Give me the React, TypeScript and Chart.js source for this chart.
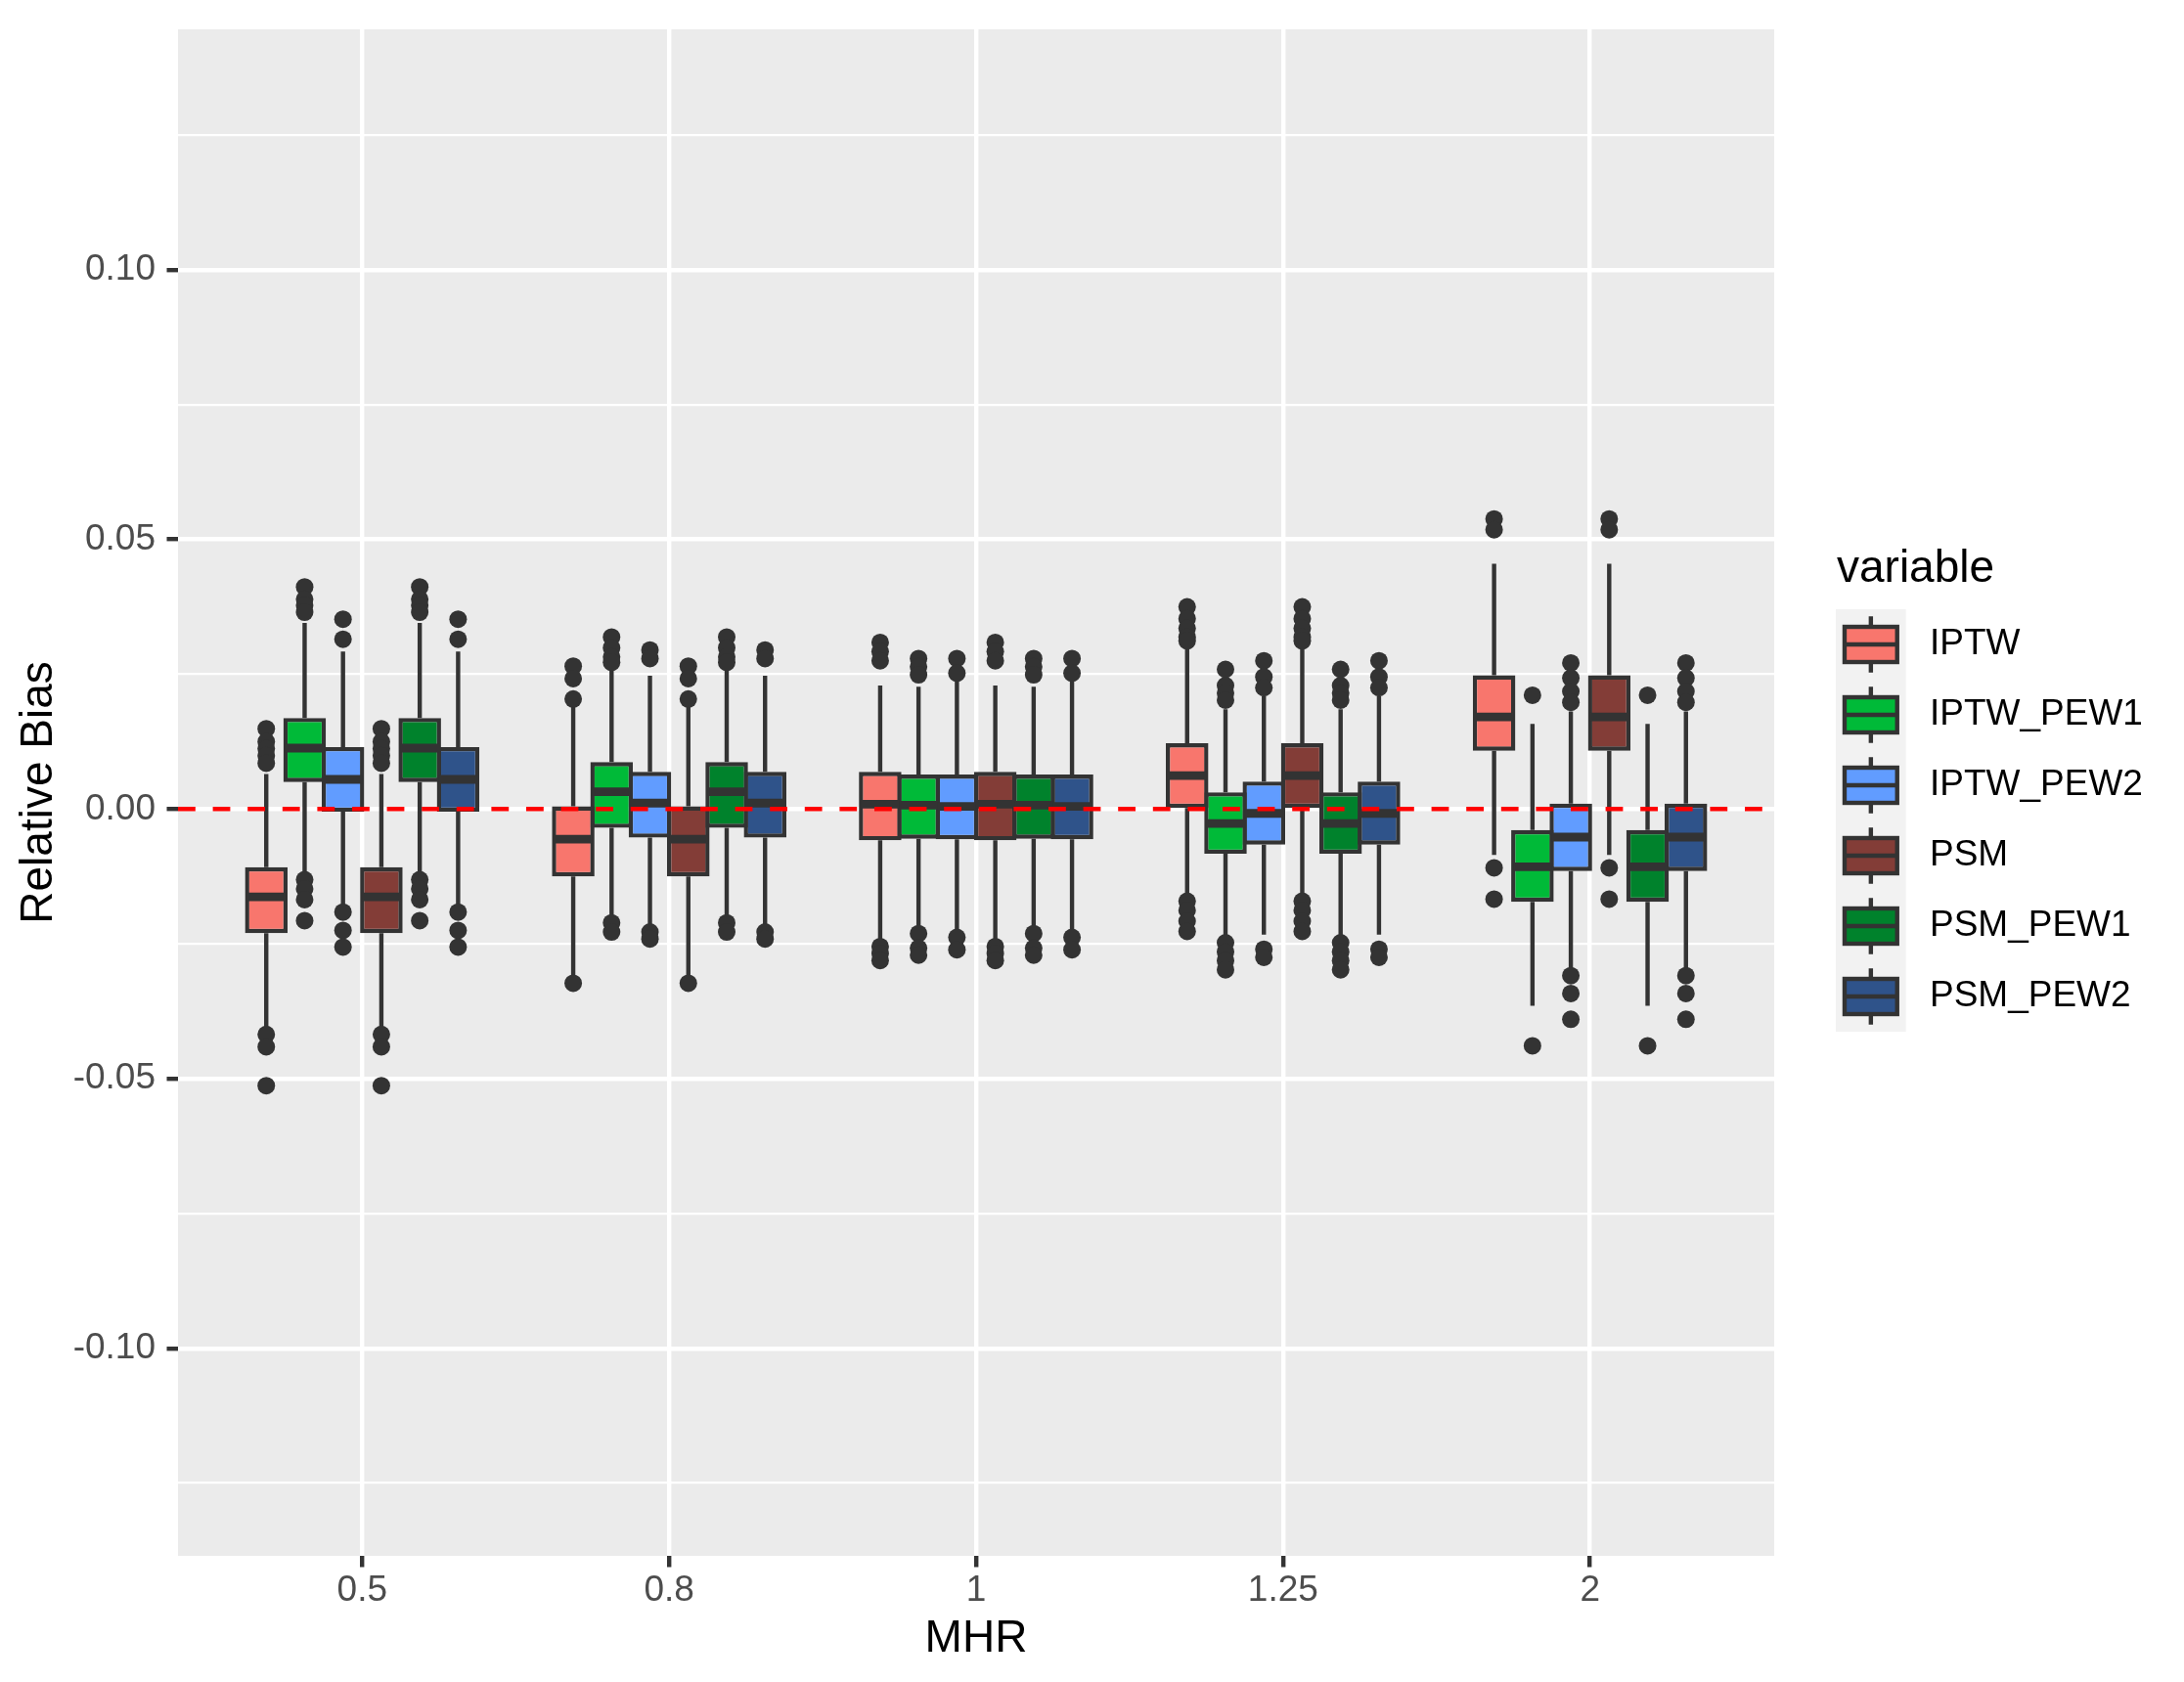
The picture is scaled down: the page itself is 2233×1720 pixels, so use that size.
import { useEffect, useRef } from 'react';
import { Chart, registerables } from 'chart.js';

Chart.register(...registerables);

// MHR levels on the x axis
const CATEGORIES = ['0.5', '0.8', '1', '1.25', '2'];

// box stats per MHR level: [whisker low, q1, median, q3, whisker high]
const IPTW = [
  [-0.0408, -0.023, -0.0163, -0.0108, 0.0065],
  [-0.0311, -0.0125, -0.0056, 0.0005, 0.0192],
  [-0.0241, -0.0058, 0.0009, 0.0069, 0.0229],
  [-0.0161, 0.0002, 0.0062, 0.0122, 0.0299],
  [-0.0085, 0.0108, 0.0171, 0.0248, 0.0455],
];
const IPTW_PEW1 = [
  [-0.0128, 0.005, 0.0113, 0.0169, 0.0345],
  [-0.0205, -0.0035, 0.0032, 0.0087, 0.0259],
  [-0.0221, -0.0055, 0.0007, 0.0064, 0.0227],
  [-0.0235, -0.0083, -0.0027, 0.0031, 0.0185],
  [-0.0365, -0.0172, -0.0107, -0.0039, 0.0158],
];
const IPTW_PEW2 = [
  [-0.0188, -0.0005, 0.0055, 0.0115, 0.0292],
  [-0.0218, -0.0053, 0.0011, 0.0069, 0.0247],
  [-0.0228, -0.0056, 0.0005, 0.0064, 0.0239],
  [-0.0233, -0.0066, -0.0008, 0.0051, 0.0209],
  [-0.0295, -0.0115, -0.0052, 0.001, 0.0181],
];
const PSM = [
  [-0.0408, -0.023, -0.0163, -0.0108, 0.0065],
  [-0.0311, -0.0125, -0.0056, 0.0005, 0.0192],
  [-0.0241, -0.0058, 0.0009, 0.0069, 0.0229],
  [-0.0161, 0.0002, 0.0062, 0.0122, 0.0299],
  [-0.0085, 0.0108, 0.0171, 0.0248, 0.0455],
];
const PSM_PEW1 = [
  [-0.0128, 0.005, 0.0113, 0.0169, 0.0345],
  [-0.0205, -0.0035, 0.0032, 0.0087, 0.0259],
  [-0.0221, -0.0055, 0.0007, 0.0064, 0.0227],
  [-0.0235, -0.0083, -0.0027, 0.0031, 0.0185],
  [-0.0365, -0.0172, -0.0107, -0.0039, 0.0158],
];
const PSM_PEW2 = [
  [-0.0188, -0.0005, 0.0055, 0.0115, 0.0292],
  [-0.0218, -0.0053, 0.0011, 0.0069, 0.0247],
  [-0.0228, -0.0056, 0.0005, 0.0064, 0.0239],
  [-0.0233, -0.0066, -0.0008, 0.0051, 0.0209],
  [-0.0295, -0.0115, -0.0052, 0.001, 0.0181],
];

// outliers per MHR level
const IPTW_OUT = [
  [0.0149, 0.0125, 0.0112, 0.0099, 0.0085, -0.0418, -0.0441, -0.0513],
  [0.0265, 0.0242, 0.0204, -0.0323],
  [0.0309, 0.0292, 0.0275, -0.0255, -0.0268, -0.0281],
  [0.0375, 0.0353, 0.0335, 0.0319, 0.0312, -0.0171, -0.0188, -0.0208, -0.0227],
  [0.0538, 0.0518, -0.0109, -0.0167],
];
const IPTW_PEW1_OUT = [
  [0.0412, 0.0389, 0.0378, 0.0365, -0.0131, -0.0148, -0.0168, -0.0207],
  [0.0319, 0.0299, 0.0282, 0.0272, -0.0211, -0.0228],
  [0.0279, 0.0264, 0.0249, -0.0231, -0.0258, -0.0271],
  [0.0259, 0.0229, 0.0215, 0.0202, -0.0248, -0.0265, -0.0281, -0.0298],
  [0.0211, -0.0439],
];
const IPTW_PEW2_OUT = [
  [0.0352, 0.0315, -0.0191, -0.0225, -0.0256],
  [0.0295, 0.0279, -0.0228, -0.0241],
  [0.0279, 0.0252, -0.0238, -0.0261],
  [0.0275, 0.0245, 0.0225, -0.026, -0.0275],
  [0.0271, 0.0243, 0.0218, 0.0198, -0.0309, -0.0342, -0.039],
];
const PSM_OUT = [
  [0.0149, 0.0125, 0.0112, 0.0099, 0.0085, -0.0418, -0.0441, -0.0513],
  [0.0265, 0.0242, 0.0204, -0.0323],
  [0.0309, 0.0292, 0.0275, -0.0255, -0.0268, -0.0281],
  [0.0375, 0.0353, 0.0335, 0.0319, 0.0312, -0.0171, -0.0188, -0.0208, -0.0227],
  [0.0538, 0.0518, -0.0109, -0.0167],
];
const PSM_PEW1_OUT = [
  [0.0412, 0.0389, 0.0378, 0.0365, -0.0131, -0.0148, -0.0168, -0.0207],
  [0.0319, 0.0299, 0.0282, 0.0272, -0.0211, -0.0228],
  [0.0279, 0.0264, 0.0249, -0.0231, -0.0258, -0.0271],
  [0.0259, 0.0229, 0.0215, 0.0202, -0.0248, -0.0265, -0.0281, -0.0298],
  [0.0211, -0.0439],
];
const PSM_PEW2_OUT = [
  [0.0352, 0.0315, -0.0191, -0.0225, -0.0256],
  [0.0295, 0.0279, -0.0228, -0.0241],
  [0.0279, 0.0252, -0.0238, -0.0261],
  [0.0275, 0.0245, 0.0225, -0.026, -0.0275],
  [0.0271, 0.0243, 0.0218, 0.0198, -0.0309, -0.0342, -0.039],
];

const SERIES_NAMES = ['IPTW', 'IPTW_PEW1', 'IPTW_PEW2', 'PSM', 'PSM_PEW1', 'PSM_PEW2'];
const SERIES_COLORS = ['#F8766D', '#00BA38', '#619CFF', '#833D37', '#00822C', '#2F538A'];
const SERIES_STATS = [IPTW, IPTW_PEW1, IPTW_PEW2, PSM, PSM_PEW1, PSM_PEW2];
const SERIES_OUT = [IPTW_OUT, IPTW_PEW1_OUT, IPTW_PEW2_OUT, PSM_OUT, PSM_PEW1_OUT, PSM_PEW2_OUT];

const Y_MAJOR = [-0.1, -0.05, 0, 0.05, 0.1];
const Y_MINOR = [-0.125, -0.075, -0.025, 0.025, 0.075, 0.125];
const Y_LABELS = ['-0.10', '-0.05', '0.00', '0.05', '0.10'];
const Y_MIN = -0.1385;
const Y_MAX = 0.1446;
const REF_LINE = 0;

const INK = '#333333';
const LINE = 4.4;
const FONT = '"Liberation Sans", Arial, sans-serif';

const isMajor = (v: number) => Y_MAJOR.some((m) => Math.abs(m - v) < 1e-9);

const ggBoxes = {
  id: 'ggBoxes',
  beforeDraw(chart: any) {
    const { ctx, chartArea: a } = chart;
    ctx.save();
    ctx.fillStyle = '#EBEBEB';
    ctx.fillRect(a.left, a.top, a.right - a.left, a.bottom - a.top);
    ctx.restore();
  },
  beforeDatasetsDraw(chart: any) {
    const { ctx } = chart;
    const y = chart.scales.y;
    ctx.save();
    ctx.strokeStyle = INK;
    ctx.fillStyle = INK;
    ctx.lineWidth = LINE;
    SERIES_STATS.forEach((stats, d) => {
      chart.getDatasetMeta(d).data.forEach((bar: any, i: number) => {
        const [lo, q1, , q3, hi] = stats[i];
        ctx.beginPath();
        ctx.moveTo(bar.x, y.getPixelForValue(hi));
        ctx.lineTo(bar.x, y.getPixelForValue(q3));
        ctx.moveTo(bar.x, y.getPixelForValue(q1));
        ctx.lineTo(bar.x, y.getPixelForValue(lo));
        ctx.stroke();
        SERIES_OUT[d][i].forEach((v) => {
          ctx.beginPath();
          ctx.arc(bar.x, y.getPixelForValue(v), 9, 0, Math.PI * 2);
          ctx.fill();
        });
      });
    });
    ctx.restore();
  },
  afterDatasetsDraw(chart: any) {
    const { ctx, chartArea: a } = chart;
    const y = chart.scales.y;
    ctx.save();
    ctx.strokeStyle = INK;
    ctx.lineWidth = LINE * 2;
    SERIES_STATS.forEach((stats, d) => {
      chart.getDatasetMeta(d).data.forEach((bar: any, i: number) => {
        const half = bar.width / 2 - LINE / 2;
        const py = y.getPixelForValue(stats[i][2]);
        ctx.beginPath();
        ctx.moveTo(bar.x - half, py);
        ctx.lineTo(bar.x + half, py);
        ctx.stroke();
      });
    });
    // dashed reference line
    const ry = y.getPixelForValue(REF_LINE);
    ctx.strokeStyle = '#FF0000';
    ctx.lineWidth = LINE;
    ctx.setLineDash([17.8, 17.8]);
    ctx.beginPath();
    ctx.moveTo(a.left, ry);
    ctx.lineTo(a.right, ry);
    ctx.stroke();
    ctx.restore();
  },
  afterDraw(chart: any) {
    // ggplot-style legend
    const { ctx } = chart;
    const keyX = 1877;
    const keyY = 623;
    const kw = 71.7;
    const kh = 72;
    ctx.save();
    ctx.fillStyle = '#000000';
    ctx.font = `46px ${FONT}`;
    ctx.textAlign = 'left';
    ctx.textBaseline = 'alphabetic';
    ctx.fillText('variable', 1878, 595);
    chart.data.datasets.forEach((ds: any, k: number) => {
      const top = keyY + k * kh;
      ctx.fillStyle = '#F2F2F2';
      ctx.fillRect(keyX, top, kw, kh);
      const cx = keyX + kw / 2;
      ctx.strokeStyle = INK;
      ctx.lineWidth = LINE;
      ctx.beginPath();
      ctx.moveTo(cx, top + kh * 0.1);
      ctx.lineTo(cx, top + kh * 0.25);
      ctx.moveTo(cx, top + kh * 0.75);
      ctx.lineTo(cx, top + kh * 0.9);
      ctx.stroke();
      ctx.fillStyle = ds.backgroundColor;
      ctx.fillRect(keyX + kw * 0.125, top + kh * 0.25, kw * 0.75, kh * 0.5);
      ctx.strokeRect(keyX + kw * 0.125, top + kh * 0.25, kw * 0.75, kh * 0.5);
      ctx.beginPath();
      ctx.moveTo(keyX + kw * 0.125, top + kh * 0.5);
      ctx.lineTo(keyX + kw * 0.875, top + kh * 0.5);
      ctx.stroke();
      ctx.fillStyle = '#000000';
      ctx.font = `37px ${FONT}`;
      ctx.textBaseline = 'middle';
      ctx.fillText(ds.label, 1973, top + kh / 2);
    });
    ctx.restore();
  },
};

const BoxPlotChart = () => {
  const chartRef = useRef<HTMLCanvasElement | null>(null);

  useEffect(() => {
    if (!chartRef.current) return;
    const context = chartRef.current.getContext('2d');
    if (!context) return;

    const myChart = new Chart(context, {
      type: 'bar',
      data: {
        datasets: SERIES_NAMES.map((name, d) => ({
          label: name,
          data: CATEGORIES.map((_, i) => ({ x: i, y: [SERIES_STATS[d][i][1], SERIES_STATS[d][i][3]] })),
          backgroundColor: SERIES_COLORS[d],
          borderColor: INK,
          borderWidth: LINE,
          borderSkipped: false,
          categoryPercentage: 0.75,
          barPercentage: 1.11,
        })) as any,
      },
      options: {
        animation: false,
        responsive: true,
        maintainAspectRatio: false,
        events: [],
        layout: { padding: { left: 0, top: 23, right: 419, bottom: 0 } },
        plugins: {
          legend: { display: false },
          tooltip: { enabled: false },
        },
        scales: {
          x: {
            type: 'linear',
            min: -0.6,
            max: 4.6,
            offset: false,
            afterBuildTicks: (axis: any) => {
              axis.ticks = CATEGORIES.map((_, i) => ({ value: i }));
            },
            afterFit: (axis: any) => {
              axis.height = 129;
            },
            grid: {
              offset: false,
              color: '#FFFFFF',
              lineWidth: LINE,
              tickColor: INK,
              tickWidth: LINE,
              tickLength: 11.5,
            },
            border: { display: false },
            ticks: {
              autoSkip: false,
              maxRotation: 0,
              padding: 6,
              color: '#4D4D4D',
              font: { family: FONT, size: 37, lineHeight: 1 },
              callback: (_v: any, i: number) => CATEGORIES[i],
            },
            title: {
              display: true,
              text: 'MHR',
              color: '#000000',
              font: { family: FONT, size: 46, lineHeight: 1 },
              padding: { top: 0, bottom: 21 },
            },
          },
          y: {
            type: 'linear',
            min: Y_MIN,
            max: Y_MAX,
            afterBuildTicks: (axis: any) => {
              axis.ticks = [...Y_MINOR, ...Y_MAJOR].sort((p, q) => p - q).map((v) => ({ value: v }));
            },
            afterFit: (axis: any) => {
              axis.width = 182;
            },
            grid: {
              color: '#FFFFFF',
              lineWidth: (c: any) => (c.tick && isMajor(c.tick.value) ? LINE : LINE / 2),
              tickColor: (c: any) => (c.tick && isMajor(c.tick.value) ? INK : 'rgba(0,0,0,0)'),
              tickWidth: LINE,
              tickLength: 11.5,
            },
            border: { display: false },
            ticks: {
              autoSkip: false,
              padding: 11.5,
              color: '#4D4D4D',
              font: { family: FONT, size: 37, lineHeight: 1 },
              callback: (v: any) => {
                const k = Y_MAJOR.findIndex((m) => Math.abs(m - Number(v)) < 1e-9);
                return k >= 0 ? Y_LABELS[k] : '';
              },
            },
            title: {
              display: true,
              text: 'Relative Bias',
              color: '#000000',
              font: { family: FONT, size: 46, lineHeight: 1 },
              padding: { top: 17, bottom: 0 },
            },
          },
        },
      },
      plugins: [ggBoxes],
    });

    return () => myChart.destroy();
  }, []);

  return (
    <div style={{ position: 'fixed', left: 0, top: 0, width: '100vw', height: '100vh', background: '#FFFFFF' }}>
      <canvas ref={chartRef} />
    </div>
  );
};

export default function App() {
  return <BoxPlotChart />;
}
